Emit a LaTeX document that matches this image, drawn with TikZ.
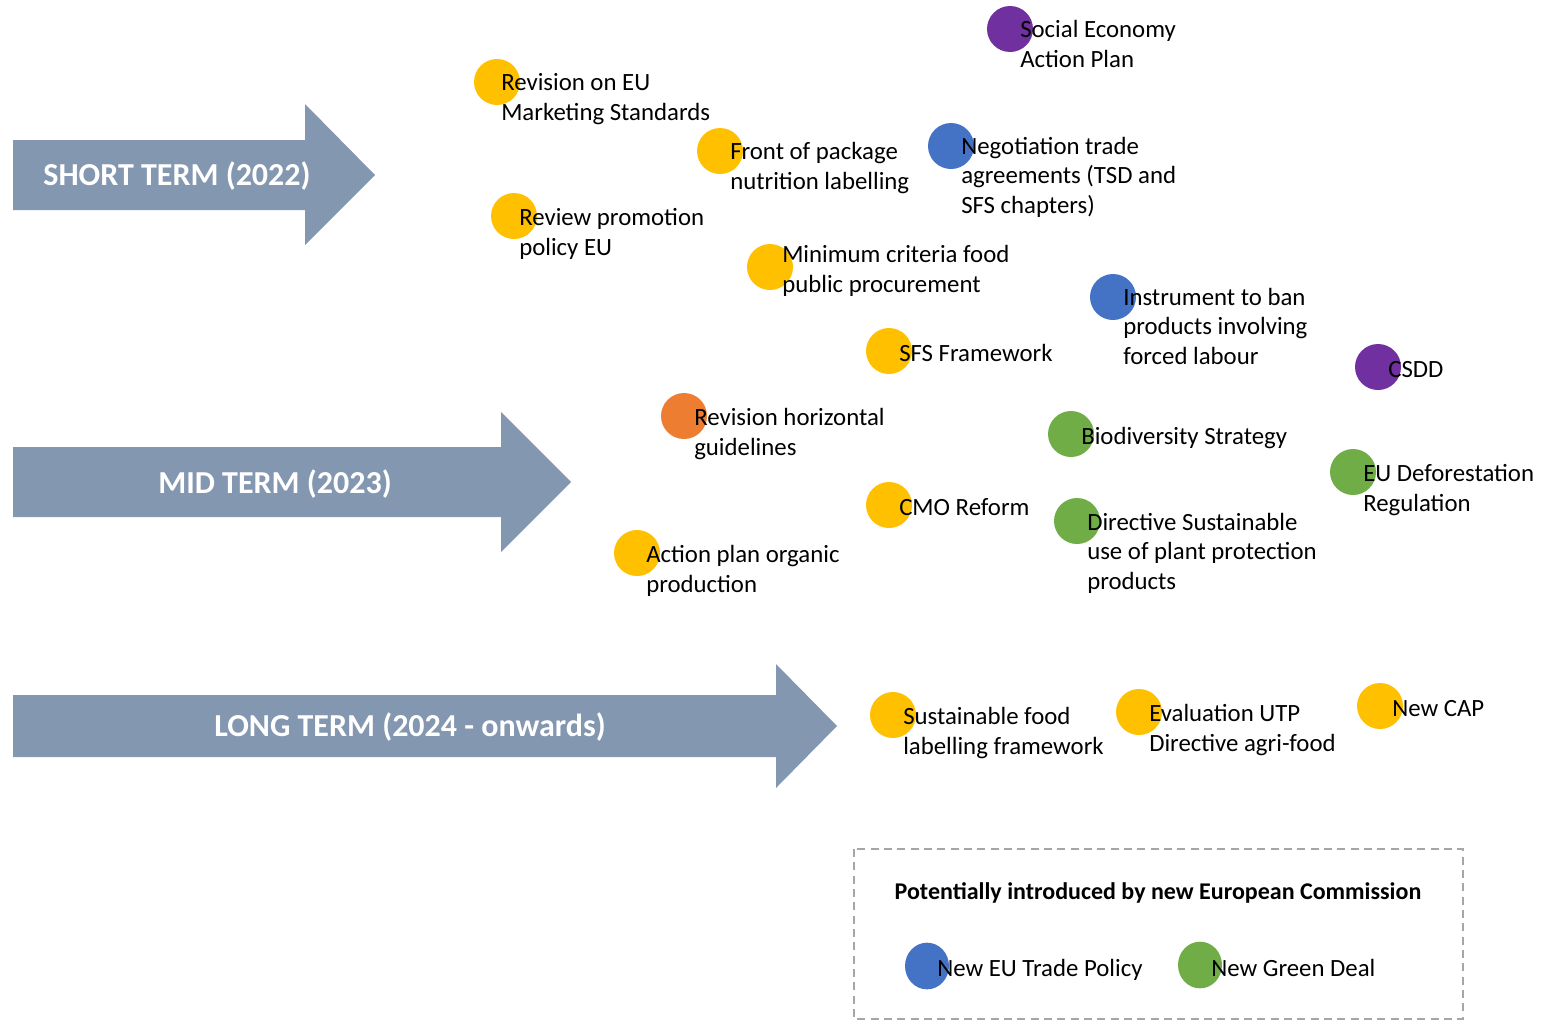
\documentclass[tikz,border=0pt]{standalone}
\usepackage{fontspec}
\setmainfont{Carlito}
\usetikzlibrary{shapes.geometric}
\definecolor{ylw}{HTML}{FFC000}
\definecolor{blu}{HTML}{4472C4}
\definecolor{grn}{HTML}{70AD47}
\definecolor{prp}{HTML}{7030A0}
\definecolor{org}{HTML}{ED7D31}
\definecolor{arr}{HTML}{8497B0}
\definecolor{legbox}{HTML}{A6A6A6}
\begin{document}
\begin{tikzpicture}[x=0.75pt,y=-0.75pt,
  dot/.style={circle,minimum size=34.5pt,inner sep=0pt,draw=none},
  legdot/.style={ellipse,minimum width=33pt,minimum height=35pt,inner sep=0pt,draw=none},
  lbl/.style={anchor=base west,inner sep=0pt,align=left,font=\fontsize{18.6}{22}\selectfont},
  arrowshape/.style={fill=arr,draw=none},
  arrtext/.style={text=white,font=\fontsize{24}{28}\selectfont\bfseries,inner sep=0pt},
  legtitle/.style={font=\fontsize{18}{21}\selectfont\bfseries,inner sep=0pt,anchor=base}]
\useasboundingbox (0,0) rectangle (1548,1021);
% arrows
\fill[arrowshape] (13,140) -- (305,140) -- (305,104) -- (375,175) -- (305,245) -- (305,210) -- (13,210) -- cycle;
\fill[arrowshape] (13,447) -- (501,447) -- (501,412) -- (571,482) -- (501,552) -- (501,517) -- (13,517) -- cycle;
\fill[arrowshape] (13,695) -- (776,695) -- (776,664) -- (837,726) -- (776,788) -- (776,757) -- (13,757) -- cycle;
\node[arrtext] (short) at (177,176) {SHORT TERM (2022)};
\node[arrtext] (mid) at (275,484) {MID TERM (2023)};
\node[arrtext] (long) at (410,727) {LONG TERM (2024 - onwards)};
% dots
\node[dot,fill=ylw] (c1) at (497,82) {};
\node[dot,fill=ylw] (c2) at (720,151) {};
\node[dot,fill=ylw] (c3) at (514,216) {};
\node[dot,fill=ylw] (c4) at (770,267) {};
\node[dot,fill=prp] (c5) at (1010,29) {};
\node[dot,fill=blu] (c6) at (951,146) {};
\node[dot,fill=blu] (c7) at (1113,297) {};
\node[dot,fill=ylw] (c8) at (889,351) {};
\node[dot,fill=prp] (c9) at (1378,367) {};
\node[dot,fill=org] (c10) at (684,416) {};
\node[dot,fill=grn] (c11) at (1071,434) {};
\node[dot,fill=grn] (c12) at (1353,472) {};
\node[dot,fill=ylw] (c13) at (889,505) {};
\node[dot,fill=grn] (c14) at (1077,521) {};
\node[dot,fill=ylw] (c15) at (637,553) {};
\node[dot,fill=ylw] (c16) at (893,715) {};
\node[dot,fill=ylw] (c17) at (1139,712) {};
\node[dot,fill=ylw] (c18) at (1380,706) {};
% labels (base anchor = baseline of last line)
\node[lbl] (t1) at (501,120) {Revision on EU\\Marketing Standards};
\node[lbl] (t2) at (730,189) {Front of package\\nutrition labelling};
\node[lbl] (t3) at (519,255) {Review promotion\\policy EU};
\node[lbl] (t4) at (782,292) {Minimum criteria food\\public procurement};
\node[lbl] (t5) at (1020,67) {Social Economy\\Action Plan};
\node[lbl] (t6) at (961,213) {Negotiation trade\\agreements (TSD and\\SFS chapters)};
\node[lbl] (t7) at (1123,364) {Instrument to ban\\products involving\\forced labour};
\node[lbl] (t8) at (899,361) {SFS Framework};
\node[lbl] (t9) at (1388,377) {CSDD};
\node[lbl] (t10) at (694,455) {Revision horizontal\\guidelines};
\node[lbl] (t11) at (1081,444) {Biodiversity Strategy};
\node[lbl] (t12) at (1363,511) {EU Deforestation\\Regulation};
\node[lbl] (t13) at (899,515) {CMO Reform};
\node[lbl] (t14) at (1087,589) {Directive Sustainable\\use of plant protection\\products};
\node[lbl] (t15) at (646,592) {Action plan organic\\production};
\node[lbl] (t16) at (903,754) {Sustainable food\\labelling framework};
\node[lbl] (t17) at (1149,751) {Evaluation UTP\\Directive agri-food};
\node[lbl] (t18) at (1392,716) {New CAP};
% legend
\draw[legbox,line width=1.5pt,dash pattern=on 6pt off 4pt] (854,849) rectangle (1463,1019);
\node[legtitle] (lt) at (1158,899) {Potentially introduced by new European Commission};
\node[legdot,fill=blu] (lc1) at (927,966) {};
\node[legdot,fill=grn] (lc2) at (1200,965) {};
\node[lbl] (lt1) at (937,976) {New EU Trade Policy};
\node[lbl] (lt2) at (1211,976) {New Green Deal};
\end{tikzpicture}
\end{document}
